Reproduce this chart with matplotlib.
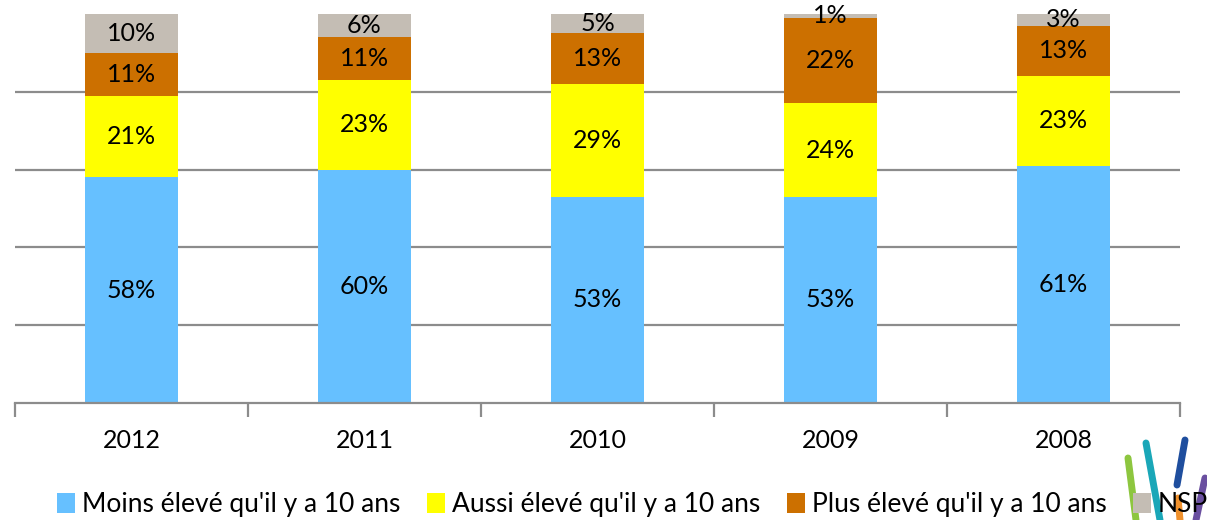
#!/usr/bin/env python3
"""Stacked 100% columns: perception of level compared with 10 years ago."""
import matplotlib
matplotlib.use("Agg")
import matplotlib.pyplot as plt
from matplotlib.lines import Line2D
import numpy as np

plt.rcParams["font.family"] = ["Lato", "DejaVu Sans"]

years = ["2012", "2011", "2010", "2009", "2008"]
series_names = [
    "Moins élevé qu'il y a 10 ans",
    "Aussi élevé qu'il y a 10 ans",
    "Plus élevé qu'il y a 10 ans",
    "NSP",
]
moins = [58, 60, 53, 53, 61]
aussi = [21, 23, 29, 24, 23]
plus = [11, 11, 13, 22, 13]
nsp = [10, 6, 5, 1, 3]
colors = ["#66C0FF", "#FFFF00", "#CC7000", "#C4BDB4"]

W, H = 1207, 520
fig = plt.figure(figsize=(W / 100, H / 100), dpi=100)
ax = fig.add_axes([15 / W, 1 - 403 / H, (1180 - 15) / W, (403 - 14) / H])

x = np.arange(len(years))
bottom = np.zeros(len(years))
handles = []
for name, values, color in zip(series_names, [moins, aussi, plus, nsp], colors):
    values = np.array(values, dtype=float)
    bars = ax.bar(x, values, width=0.40, bottom=bottom, color=color, zorder=2, label=name)
    handles.append(bars)
    for xi, b, v in zip(x, bottom, values):
        ax.text(xi, b + v / 2, f"{int(v)}%", ha="center", va="center", fontsize=18, color="black", zorder=3)
    bottom += values

ax.set_xlim(-0.5, len(years) - 0.5)
ax.set_ylim(0, 100)
for yv in (20, 40, 60, 80):
    ax.axhline(yv, color="#8C8C8C", linewidth=1.6, zorder=1)
for side in ("left", "right", "top"):
    ax.spines[side].set_visible(False)
ax.spines["bottom"].set_color("#8C8C8C")
ax.spines["bottom"].set_linewidth(1.6)
ax.set_yticks([])
ax.set_xticks(np.arange(-0.5, len(years)), minor=False)
ax.set_xticklabels([])
ax.tick_params(axis="x", which="major", length=10, width=1.6, color="#8C8C8C", direction="out")
ax.set_xticks(x, minor=True)
ax.set_xticklabels(years, minor=True, fontsize=18)
ax.tick_params(axis="x", which="minor", length=0, pad=19)

fig.legend(handles=handles, labels=series_names, loc="center", bbox_to_anchor=(0.524, 0.029),
           ncol=4, frameon=False, fontsize=19, handlelength=0.7, handleheight=0.8,
           handletextpad=0.25, columnspacing=1.0, borderpad=0)

# small logo strokes in the corner
logo = [
    ((1128, 458), (1136, 520), "#8DC63F"),
    ((1146, 443), (1160, 520), "#1AA7B8"),
    ((1185, 440), (1177, 485), "#1F4E9E"),
    ((1178, 498), (1180, 520), "#F0912C"),
    ((1205, 478), (1196, 520), "#6A4FA0"),
]
for (x0, y0), (x1, y1), c in logo:
    fig.add_artist(Line2D([x0 / W, x1 / W], [1 - y0 / H, 1 - y1 / H], color=c, linewidth=5,
                          solid_capstyle="round", transform=fig.transFigure))

fig.savefig("out.png", dpi=100, facecolor="white")
